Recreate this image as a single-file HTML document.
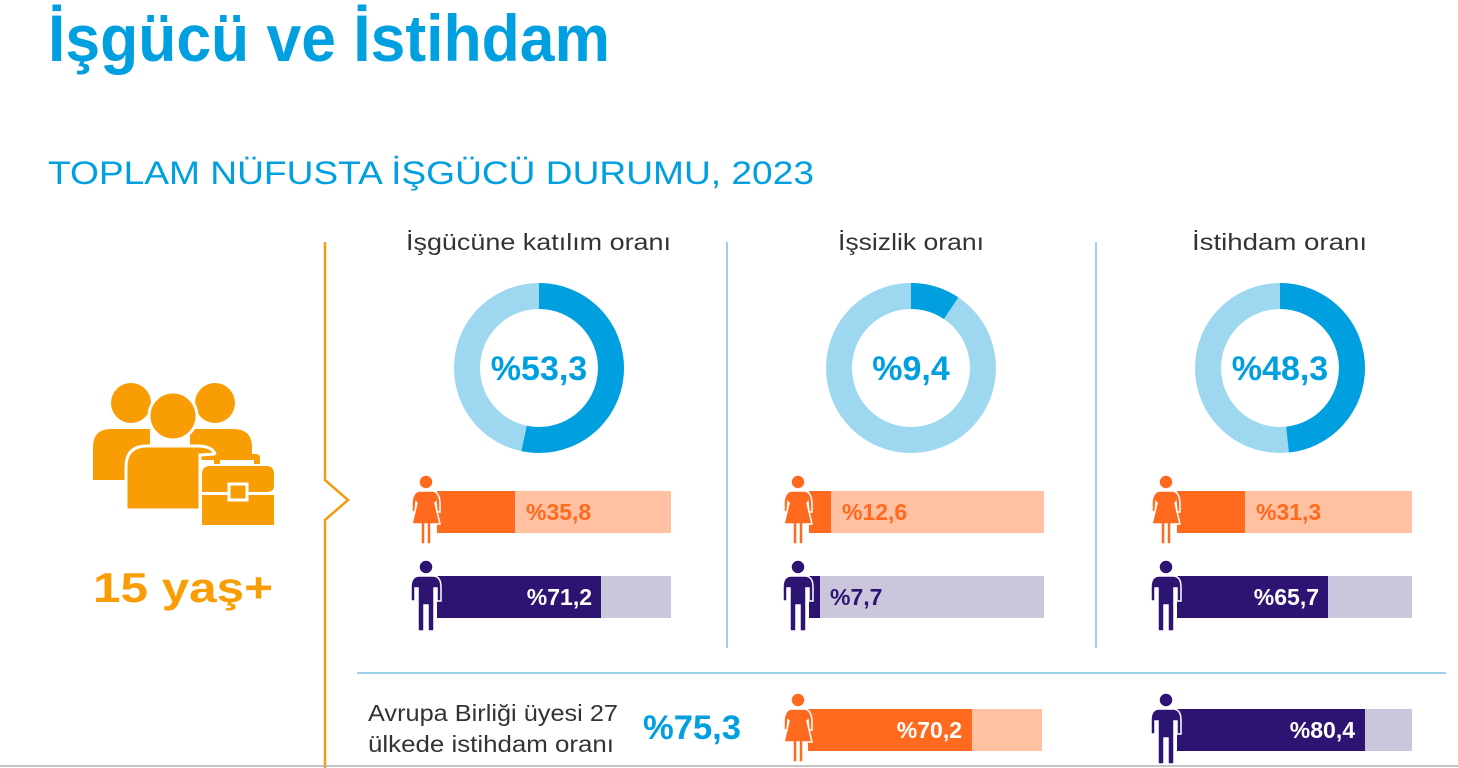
<!DOCTYPE html>
<html><head><meta charset="utf-8"><style>
html,body{margin:0;padding:0;background:#fff;}
svg{display:block;}
text{font-family:"Liberation Sans",sans-serif;}
</style></head><body>
<svg width="1458" height="768" viewBox="0 0 1458 768" xmlns="http://www.w3.org/2000/svg">
<defs>
<g id="fem">
 <circle cx="0" cy="0" r="7"/>
 <path d="M-7,9 L7,9 Q13,10 14,20 L14,30 L11,30 L10,20 L9,21 L14,42 L5,42 L5,62 L1,62 L1,42 L-1,42 L-1,62 L-5,62 L-5,42 L-14,42 L-9,21 L-10,20 L-11,30 L-14,30 L-14,20 Q-13,10 -7,9Z"/>
</g>
<g id="mal">
 <circle cx="0" cy="0" r="7"/>
 <path d="M-8,9 L8,9 Q15,10 15,20 L15,34 L11,34 L11,21 L8,21 L8,64 L2,64 L2,38 L-2,38 L-2,64 L-8,64 L-8,21 L-11,21 L-11,34 L-15,34 L-15,20 Q-15,10 -8,9Z"/>
</g>
</defs>

<text x="48" y="61" font-size="66" font-weight="bold" fill="#009fdf" textLength="562" lengthAdjust="spacingAndGlyphs">İşgücü ve İstihdam</text>
<text x="48" y="184" font-size="32" fill="#009fdf" textLength="766" lengthAdjust="spacingAndGlyphs">TOPLAM NÜFUSTA İŞGÜCÜ DURUMU, 2023</text>

<polyline points="325,242 325,480 348,500 325,520 325,768" fill="none" stroke="#f39c12" stroke-width="2.5"/>
<line x1="727" y1="242" x2="727" y2="648" stroke="#7cc4e0" stroke-width="1.5"/>
<line x1="1096" y1="242" x2="1096" y2="648" stroke="#7cc4e0" stroke-width="1.5"/>
<line x1="357" y1="673" x2="1446" y2="673" stroke="#7cc4e0" stroke-width="1.5"/>
<line x1="0" y1="766" x2="1458" y2="766" stroke="#b0b0b0" stroke-width="1.5"/>

<g fill="#f99d05">
 <circle cx="131" cy="403" r="20"/>
 <circle cx="215" cy="403" r="20"/>
 <path d="M93,480 L93,447 Q93,429 111,429 L150,429 L150,480Z"/>
 <path d="M190,429 L233,429 Q252,429 252,447 L252,460 L200,460 L190,480Z"/>
 <circle cx="173" cy="416" r="24" stroke="#fff" stroke-width="3"/>
 <path d="M126,510 L126,467 Q126,446 147,446 L197,446 Q212,446 215,454 L200,455 L200,510Z" stroke="#fff" stroke-width="3"/>
 <path d="M214,458 Q214,454 218,454 L256,454 Q260,454 260,458 L260,464 L254,464 L254,460 L220,460 L220,464 L214,464Z"/>
 <path d="M202,474 Q202,466 210,466 L266,466 Q274,466 274,474 L274,486 Q274,492 266,492 L202,492Z"/>
 <path d="M202,495 L274,495 L274,525 L202,525Z"/>
 <rect x="229" y="484" width="18" height="16" stroke="#fff" stroke-width="3"/>
</g>
<text x="93" y="602" font-size="42" font-weight="bold" fill="#f99d05" textLength="180" lengthAdjust="spacingAndGlyphs">15 yaş+</text>

<g font-size="23" fill="#333">
<text x="406" y="250" textLength="265" lengthAdjust="spacingAndGlyphs">İşgücüne katılım oranı</text>
<text x="838" y="250" textLength="146" lengthAdjust="spacingAndGlyphs">İşsizlik oranı</text>
<text x="1192" y="250" textLength="175" lengthAdjust="spacingAndGlyphs">İstihdam oranı</text>
</g>

<g fill="none" stroke-width="26">
 <circle cx="539" cy="368" r="72" stroke="#9dd7f0"/>
 <circle cx="539" cy="368" r="72" stroke="#009fdf" stroke-dasharray="241.1 500" transform="rotate(-90 539 368)"/>
 <circle cx="911" cy="368" r="72" stroke="#9dd7f0"/>
 <circle cx="911" cy="368" r="72" stroke="#009fdf" stroke-dasharray="42.5 500" transform="rotate(-90 911 368)"/>
 <circle cx="1280" cy="368" r="72" stroke="#9dd7f0"/>
 <circle cx="1280" cy="368" r="72" stroke="#009fdf" stroke-dasharray="218.5 500" transform="rotate(-90 1280 368)"/>
</g>
<g font-size="34" font-weight="bold" fill="#009fdf" text-anchor="middle">
 <text x="539" y="380">%53,3</text>
 <text x="911" y="380">%9,4</text>
 <text x="1280" y="380">%48,3</text>
</g>

<g>
 <rect x="437" y="491" width="234" height="42" fill="#ffc1a1"/><rect x="437" y="491" width="78" height="42" fill="#ff6a1f"/>
 <rect x="437" y="576" width="234" height="42" fill="#ccc6dd"/><rect x="437" y="576" width="164" height="42" fill="#2d1472"/>
 <rect x="809" y="491" width="235" height="42" fill="#ffc1a1"/><rect x="809" y="491" width="22" height="42" fill="#ff6a1f"/>
 <rect x="809" y="576" width="235" height="42" fill="#ccc6dd"/><rect x="809" y="576" width="11" height="42" fill="#2d1472"/>
 <rect x="1177" y="491" width="235" height="42" fill="#ffc1a1"/><rect x="1177" y="491" width="68" height="42" fill="#ff6a1f"/>
 <rect x="1177" y="576" width="235" height="42" fill="#ccc6dd"/><rect x="1177" y="576" width="151" height="42" fill="#2d1472"/>
 <rect x="808" y="709" width="234" height="42" fill="#ffc1a1"/><rect x="808" y="709" width="164" height="42" fill="#ff6a1f"/>
 <rect x="1177" y="709" width="235" height="42" fill="#ccc6dd"/><rect x="1177" y="709" width="188" height="42" fill="#2d1472"/>
</g>
<g font-size="23" font-weight="bold">
 <text x="526" y="520" fill="#ff6a1f">%35,8</text>
 <text x="592" y="605" fill="#fff" text-anchor="end">%71,2</text>
 <text x="842" y="520" fill="#ff6a1f">%12,6</text>
 <text x="830" y="605" fill="#2d1472">%7,7</text>
 <text x="1256" y="520" fill="#ff6a1f">%31,3</text>
 <text x="1319" y="605" fill="#fff" text-anchor="end">%65,7</text>
 <text x="962" y="738" fill="#fff" text-anchor="end">%70,2</text>
 <text x="1355" y="738" fill="#fff" text-anchor="end">%80,4</text>
</g>

<g fill="#ff6a1f" stroke="#fff" stroke-width="1.5">
 <use href="#fem" x="426" y="482"/>
 <use href="#fem" x="798" y="482"/>
 <use href="#fem" x="1166" y="482"/>
 <use href="#fem" x="798" y="700"/>
</g>
<g fill="#2d1472" stroke="#fff" stroke-width="1.5">
 <use href="#mal" x="426" y="567"/>
 <use href="#mal" x="798" y="567"/>
 <use href="#mal" x="1166" y="567"/>
 <use href="#mal" x="1166" y="700"/>
</g>

<g font-size="23" fill="#333">
<text x="368" y="721" textLength="250" lengthAdjust="spacingAndGlyphs">Avrupa Birliği üyesi 27</text>
<text x="368" y="752" textLength="246" lengthAdjust="spacingAndGlyphs">ülkede istihdam oranı</text>
</g>
<text x="643" y="739" font-size="34" font-weight="bold" fill="#009fdf" textLength="98" lengthAdjust="spacingAndGlyphs">%75,3</text>
</svg>
</body></html>
